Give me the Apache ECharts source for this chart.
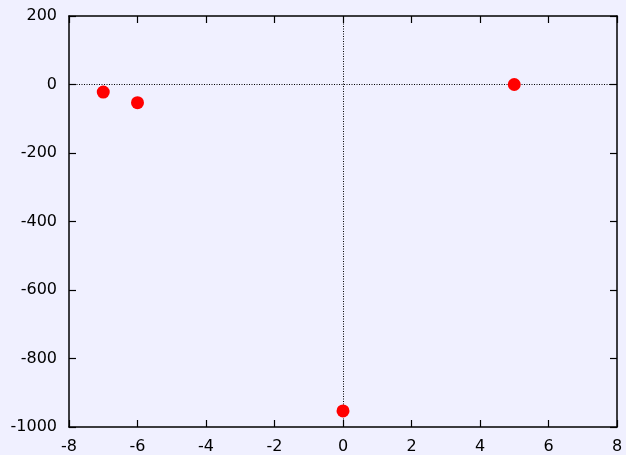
<!DOCTYPE html>
<html><head><meta charset="utf-8">
<script src="https://cdn.jsdelivr.net/npm/echarts@6/dist/echarts.min.js"></script>
<style>html,body{margin:0;padding:0;background:#f0f0ff;}#c{width:626px;height:455px;}</style>
</head><body><div id="c"></div>
<script>
const xValues = [-7, -6, 0, 5];
const yValues = [-22, -53, -953, 0];
const xTicks = {min: -8, max: 8, interval: 2};
const yTicks = {min: -1000, max: 200, interval: 200};

const chart = echarts.init(document.getElementById('c'), null, {renderer: 'canvas'});
const font = {fontFamily: 'DejaVu Sans', fontSize: 16, color: '#000', formatter: v => String(v)};
const axisCommon = {
  axisLine: {show: true, onZero: false, lineStyle: {color: '#000', width: 1.5}},
  axisTick: {show: true, inside: true, length: 7, lineStyle: {color: '#000', width: 1.2}},
  splitLine: {show: false}
};
chart.setOption({
  backgroundColor: '#f0f0ff',
  animation: false,
  grid: {left: 69, right: 9, top: 16, bottom: 28},
  xAxis: [
    Object.assign({type: 'value', position: 'bottom', min: xTicks.min, max: xTicks.max, interval: xTicks.interval,
      axisLabel: Object.assign({margin: 12}, font)}, axisCommon),
    Object.assign({type: 'value', position: 'top', min: xTicks.min, max: xTicks.max, interval: xTicks.interval,
      axisLabel: {show: false}}, axisCommon)
  ],
  yAxis: [
    Object.assign({type: 'value', position: 'left', min: yTicks.min, max: yTicks.max, interval: yTicks.interval,
      axisLabel: Object.assign({margin: 12}, font)}, axisCommon),
    Object.assign({type: 'value', position: 'right', min: yTicks.min, max: yTicks.max, interval: yTicks.interval,
      axisLabel: {show: false}}, axisCommon)
  ],
  series: [{
    type: 'scatter',
    xAxisIndex: 0, yAxisIndex: 0,
    data: xValues.map((x, i) => [x, yValues[i]]),
    symbol: 'circle',
    symbolSize: 13,
    itemStyle: {color: '#ff0000', opacity: 1},
    z: 5,
    markLine: {
      silent: true,
      symbol: 'none',
      label: {show: false},
      lineStyle: {color: '#000', type: [1, 1.5], width: 1},
      data: [{xAxis: 0}, {yAxis: 0}],
      z: 1
    }
  }]
});
</script></body></html>
